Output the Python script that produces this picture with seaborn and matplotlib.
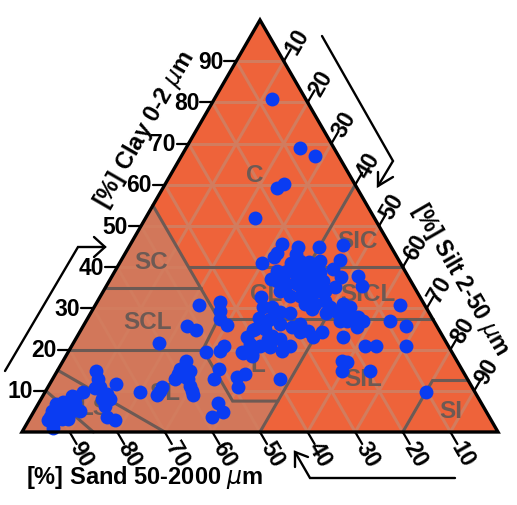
# Soil texture triangle with samples (clay / silt / sand in percent)
import matplotlib
matplotlib.use("Agg")
import numpy as np
import pandas as pd
import matplotlib.pyplot as plt
import seaborn as sns

clay = [80.8, 68.9, 67.0, 60.2, 59.2, 51.9, 45.6, 43.4, 42.5, 44.9, 43.2, 44.9, 41.0, 41.0, 41.3, 39.1, 37.1, 37.9, 39.1, 39.6,
        39.6, 38.8, 37.1, 37.1, 36.7, 34.2, 33.0, 34.7, 34.2, 31.1, 31.1, 31.8, 33.0, 35.9, 35.9, 28.9, 32.8, 30.3, 30.3, 29.1,
        28.9, 27.7, 26.9, 25.0, 25.0, 23.1, 20.9, 23.3, 22.6, 20.9, 25.5, 24.3, 23.1, 24.5, 19.2, 18.9, 31.6, 29.4, 27.4, 26.0,
        30.8, 25.7, 24.8, 21.6, 19.4, 20.9, 19.7, 17.2, 15.3, 14.8, 12.9, 13.6, 11.2, 9.0, 9.7, 10.9, 9.0, 15.3, 12.9, 7.0,
        4.9, 3.6, 14.1, 13.3, 10.9, 19.4, 18.4, 24.8, 14.8, 12.9, 11.7, 10.7, 9.2, 8.0, 8.0, 6.3, 3.6, 2.9, 9.7, 8.7,
        7.3, 6.8, 5.1, 5.6, 4.9, 5.1, 2.9, 1.0, 3.2, 3.2, 45.4, 41.7, 39.6, 37.6, 37.9, 35.4, 30.8, 31.1, 35.2, 28.2,
        26.9, 27.4, 26.9, 25.5, 26.9, 25.7, 23.1, 20.9, 20.9, 20.9, 17.2, 17.0, 14.8, 14.8, 9.7, 12.9,
        35.9, 33.0, 38.3, 35.9, 34.2, 37.9, 39.1, 36.7, 41.5, 41.5, 34.2, 29.9, 26.2, 27.4, 21.4, 20.6, 19.7, 24.3, 26.2, 22.6,
        6.8, 5.1, 8.5, 3.6, 5.1, 3.2, 7.0, 10.9, 8.5, 15.8, 14.1, 12.9, 10.0, 10.0, 30.3, 29.4, 26.9, 27.9, 30.3]
silt = [12.1, 24.0, 28.1, 24.9, 24.0, 23.0, 31.8, 31.9, 31.7, 35.5, 36.0, 39.9, 29.9, 36.0, 39.6, 34.0, 33.8, 35.9, 37.4, 39.2,
        41.3, 43.2, 41.3, 43.4, 44.9, 37.1, 39.8, 42.5, 44.9, 43.9, 46.0, 47.8, 44.0, 39.8, 37.7, 49.4, 33.8, 35.4, 37.4, 39.6,
        41.8, 35.9, 38.0, 36.4, 38.6, 35.7, 39.5, 40.9, 42.9, 45.9, 44.0, 46.2, 49.6, 47.8, 36.8, 38.9, 25.8, 26.9, 27.9, 30.1,
        21.8, 21.8, 24.2, 18.0, 29.0, 32.0, 31.8, 25.9, 25.5, 27.9, 25.7, 27.0, 29.7, 31.4, 20.0, 24.0, 23.9, 33.7, 33.9, 37.7,
        39.8, 38.1, 39.8, 38.5, 39.9, 36.5, 39.1, 36.1, 8.1, 9.5, 13.9, 10.0, 13.3, 12.8, 14.5, 14.3, 16.1, 18.1, 8.0, 6.2,
        5.0, 7.3, 9.7, 4.8, 7.2, 3.8, 4.0, 6.0, 6.0, 8.1, 44.7, 46.0, 45.5, 48.2, 51.6, 53.7, 64.0, 51.9, 48.2, 53.3,
        53.4, 55.8, 58.2, 57.7, 63.9, 67.8, 55.9, 61.6, 63.9, 70.2, 58.6, 59.8, 59.8, 65.7, 80.0, 47.8,
        40.5, 41.9, 40.3, 43.0, 45.9, 38.8, 36.1, 35.2, 37.6, 41.8, 46.6, 46.0, 41.1, 38.4, 37.2, 41.8, 44.8, 50.9, 45.3, 40.4,
        3.7, 5.9, 6.9, 4.1, 8.0, 6.8, 7.6, 10.9, 13.2, 26.3, 25.8, 28.4, 30.7, 24.0, 53.8, 51.1, 54.9, 56.6, 49.6]

grid_vals = [10, 20, 30, 40, 50, 60, 70, 80, 90]
clay_ticks = [10, 20, 30, 40, 50, 60, 70, 80, 90]
silt_ticks = [10, 20, 30, 40, 50, 60, 70, 80, 90]
sand_ticks = [90, 80, 70, 60, 50, 40, 30, 20, 10]

# texture class boundaries as (clay, silt)
boundaries = [
    [(55, 0), (35, 20), (27.5, 27.5), (20, 28), (7.5, 40.5), (7.5, 50)],
    [(35, 0), (35, 20)],
    [(20, 0), (20, 28)],
    [(40, 15), (40, 60)],
    [(60, 40), (40, 40), (27.5, 52.5)],
    [(27.5, 27.5), (27.5, 72.5)],
    [(0, 50), (27.5, 50)],
    [(0, 80), (12.5, 80), (12.5, 87.5)],
    [(15, 0), (0, 30)],
    [(10, 0), (0, 15)],
]
sandy_zone = [(55, 0), (35, 20), (27.5, 27.5), (20, 28), (7.5, 40.5), (7.5, 50), (0, 50), (0, 0)]
loam_zone = [(27.5, 27.5), (27.5, 50), (7.5, 50), (7.5, 40.5), (20, 28)]

class_names = ["C", "SIC", "SC", "SCL", "CL", "SICL", "SL", "LS", "L", "SIL", "SI"]
class_clay = [62.5, 46.4, 41.3, 26.7, 33.5, 33.5, 9.7, 6.0, 16.5, 13.1, 5.1]
class_silt = [17.6, 47.3, 6.5, 13.1, 34.5, 56.0, 25.1, 12.0, 41.3, 65.2, 87.6]

X0, X1, Y0, Y1 = 22, 498, 433, 21
BRIGHT = "#ee633a"
SANDY = "#d2775a"
LOAM = "#e26c48"
GRID = "#d27c5e"
LINE = "#6d5a54"
BLUE = "#0a3cf2"
FONT = "Liberation Sans"


def tern(c, s):
    c = np.asarray(c, dtype=float)
    s = np.asarray(s, dtype=float)
    return X0 + (X1 - X0) * (s + c / 2) / 100, Y0 + (Y1 - Y0) * c / 100


sns.set_style("white")
plt.rcParams["font.family"] = [FONT, "DejaVu Sans"]
plt.rcParams["mathtext.fontset"] = "dejavusans"

fig = plt.figure(figsize=(5.17, 5.06), dpi=100)
ax = fig.add_axes([0, 0, 1, 1])

# background zones
ax.fill(*tern([0, 100, 0], [0, 0, 100]), color=BRIGHT, lw=0, zorder=1)
ax.fill(*tern(*zip(*sandy_zone)), color=SANDY, lw=0, zorder=1)
ax.fill(*tern(*zip(*loam_zone)), color=LOAM, lw=0, zorder=1)

# 10 % grid
for g in grid_vals:
    ax.plot(*tern([g, g], [0, 100 - g]), color=GRID, lw=2.2, zorder=2)
    ax.plot(*tern([0, 100 - g], [g, g]), color=GRID, lw=2.2, zorder=2)
    ax.plot(*tern([0, 100 - g], [100 - g, 0]), color=GRID, lw=2.2, zorder=2)

for line in boundaries:
    ax.plot(*tern(*zip(*line)), color=LINE, lw=2.2, zorder=3, solid_joinstyle="miter")

for name, c, s in zip(class_names, class_clay, class_silt):
    px, py = tern(c, s)
    ax.text(px, py, name, color=LINE, fontsize=17.5, fontweight="bold", ha="center", va="center", zorder=4)

# samples
px, py = tern(clay, silt)
samples = pd.DataFrame({"x": px, "y": py})
sns.scatterplot(data=samples, x="x", y="y", color=BLUE, s=100, linewidth=0, ax=ax, zorder=5, legend=False)
ax.set_xlim(0, 517)
ax.set_ylim(506, 0)
ax.axis("off")

# triangle outline
ax.fill(*tern([0, 100, 0], [0, 0, 100]), fc="none", ec="black", lw=2.4, zorder=6, joinstyle="miter")

# ticks and tick labels
tick_font = dict(fontsize=16.5, fontweight="bold", color="black", ha="center", va="center", zorder=7)
for v in clay_ticks:
    px, py = tern(v, 0)
    ax.plot([px - 12, px], [py, py], color="black", lw=1.6, zorder=6)
    ax.text(px - 13, py, str(v), fontsize=16.5, fontweight="bold", color="black", ha="right", va="center", zorder=7)
for v in silt_ticks:
    px, py = tern(100 - v, v)
    ax.plot([px, px + 7], [py, py - 12], color="black", lw=1.6, zorder=6)
    ax.text(px + 13, py - 20, str(v), rotation=60, rotation_mode="anchor", **tick_font)
for v in sand_ticks:
    px, py = tern(0, 100 - v)
    ax.plot([px, px + 7], [py, py + 12], color="black", lw=1.6, zorder=6)
    ax.text(px + 12, py + 22, str(v), rotation=-60, rotation_mode="anchor", **tick_font)

# axis titles
title_font = dict(fontsize=17, fontweight="bold", color="black", va="center", zorder=7)
ax.text(145, 130, r"[%] Clay 0-2 $\mu$m", rotation=60, rotation_mode="anchor", ha="center", **title_font)
ax.text(461, 279, r"[%] Silt 2-50 $\mu$m", rotation=-60, rotation_mode="anchor", ha="center",
        fontsize=16.5, fontweight="bold", color="black", va="center", zorder=7)
ax.text(26, 478, r"[%] Sand 50-2000 $\mu$m", ha="left", **title_font)

# direction arrows
arrow = dict(color="black", lw=1.7, zorder=6, solid_joinstyle="miter")
ax.plot([5, 78, 105], [372, 248, 248], **arrow)
ax.plot([94, 105, 94], [238, 248, 258], **arrow)
ax.plot([322, 393, 378], [37, 162, 187], **arrow)
ax.plot([378, 378, 393], [173, 187, 178], **arrow)
ax.plot([455, 310, 295], [479, 479, 453], **arrow)
ax.plot([295, 295, 308], [468, 453, 458], **arrow)

fig.savefig("out.png", dpi=100)
